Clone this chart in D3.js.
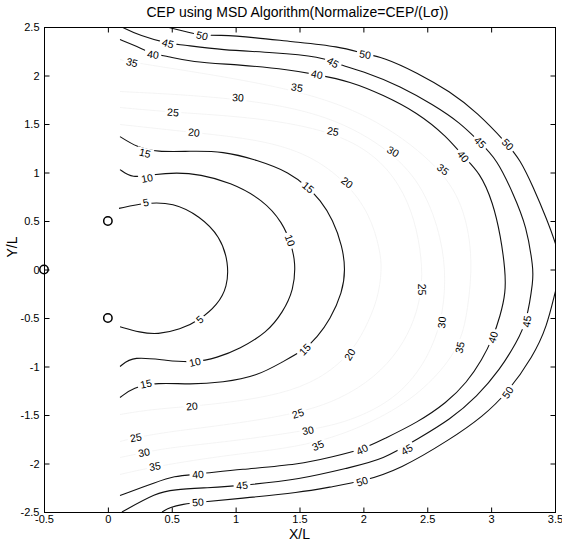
<!DOCTYPE html>
<html>
<head>
<meta charset="utf-8">
<script src="https://cdn.jsdelivr.net/npm/d3@7"></script>
<style>
  html, body { margin: 0; padding: 0; background: #fff; }
  text { font-family: "Liberation Sans", Arial, Helvetica, sans-serif; fill: #000; }
</style>
</head>
<body>
<script>
// ---------------- DATA ----------------
const titleText = "CEP using MSD Algorithm(Normalize=CEP/(L\u03c3))";
const xLabelText = "X/L";
const yLabelText = "Y/L";

const xTicks = [-0.5, 0, 0.5, 1, 1.5, 2, 2.5, 3, 3.5];
const xTickLabels = ["-0.5", "0", "0.5", "1", "1.5", "2", "2.5", "3", "3.5"];
const yTicks = [-2.5, -2, -1.5, -1, -0.5, 0, 0.5, 1, 1.5, 2, 2.5];
const yTickLabels = ["-2.5", "-2", "-1.5", "-1", "-0.5", "0", "0.5", "1", "1.5", "2", "2.5"];

// sensor markers (circles)
const markerX = [0, 0, -0.5];
const markerY = [0.5, -0.5, 0];

// contour levels
const contourLevels = [5, 10, 15, 20, 25, 30, 35, 40, 45, 50];
// levels whose lines are barely visible in the scan
const faintLevels = [20, 25, 30, 35];

// contour lines [x, y]
const contour5 = [[0.087,0.63],[0.298,0.69],[0.51,0.69],[0.72,0.55],[0.88,0.34],[0.945,0.07],[0.935,-0.18],[0.86,-0.36],[0.72,-0.52],[0.565,-0.62],[0.39,-0.67],[0.25,-0.65],[0.095,-0.59]];
const contour10 = [[0.095,1.03],[0.19,0.94],[0.353,0.98],[0.54,1.0],[0.72,0.98],[0.956,0.90],[1.214,0.72],[1.37,0.48],[1.435,0.26],[1.47,0.07],[1.455,-0.21],[1.37,-0.44],[1.246,-0.65],[1.03,-0.82],[0.854,-0.91],[0.68,-0.96],[0.463,-0.94],[0.197,-0.89],[0.095,-1.0]];
const contour15 = [[0.095,1.37],[0.228,1.26],[0.385,1.21],[0.643,1.22],[0.90,1.22],[1.167,1.13],[1.426,1.0],[1.567,0.845],[1.66,0.72],[1.762,0.515],[1.836,0.237],[1.86,0],[1.836,-0.237],[1.74,-0.515],[1.637,-0.70],[1.543,-0.825],[1.37,-0.95],[1.167,-1.10],[0.90,-1.165],[0.643,-1.186],[0.385,-1.165],[0.197,-1.216],[0.095,-1.32]];
const contour20 = [[0.095,1.495],[0.674,1.412],[1.19,1.34],[1.582,1.186],[1.872,0.897],[2.052,0.567],[2.13,0.206],[2.146,0],[2.114,-0.309],[2.013,-0.619],[1.895,-0.876],[1.66,-1.134],[1.347,-1.289],[0.956,-1.37],[0.658,-1.41],[0.33,-1.443],[0.095,-1.495]];
const contour25 = [[0.095,1.67],[0.51,1.62],[1.19,1.567],[1.762,1.423],[2.09,1.186],[2.287,0.876],[2.404,0.515],[2.459,0.103],[2.459,-0.206],[2.404,-0.515],[2.287,-0.825],[2.09,-1.113],[1.817,-1.34],[1.488,-1.485],[0.956,-1.598],[0.486,-1.67],[0.22,-1.732],[0.095,-1.773]];
const contour30 = [[0.095,1.835],[1.019,1.773],[1.739,1.598],[2.232,1.216],[2.482,0.825],[2.615,0.309],[2.647,-0.103],[2.615,-0.546],[2.482,-0.979],[2.248,-1.34],[1.895,-1.567],[1.567,-1.66],[0.956,-1.773],[0.486,-1.835],[0.283,-1.887],[0.095,-1.938]];
const contour35 = [[0.095,2.165],[0.189,2.134],[1.48,1.876],[2.13,1.546],[2.623,1.031],[2.795,0.619],[2.858,0.103],[2.819,-0.412],[2.756,-0.804],[2.52,-1.186],[2.208,-1.495],[1.645,-1.814],[0.956,-1.907],[0.369,-2.03],[0.095,-2.113]];
const contour40 = [[0.095,2.37],[0.228,2.30],[0.353,2.22],[0.463,2.20],[0.643,2.14],[1.034,2.11],[1.426,2.06],[1.637,2.01],[1.895,1.94],[2.154,1.80],[2.42,1.62],[2.655,1.37],[2.78,1.165],[2.913,1.0],[3.015,0.69],[3.075,0.34],[3.11,0],[3.115,-0.237],[3.07,-0.485],[3.015,-0.70],[2.93,-0.93],[2.81,-1.165],[2.655,-1.37],[2.42,-1.58],[2.154,-1.75],[1.99,-1.856],[1.762,-1.93],[1.504,-2.01],[1.034,-2.06],[0.705,-2.11],[0.51,-2.13],[0.385,-2.19],[0.095,-2.33]];
const contour45 = [[0.11,2.5],[0.25,2.41],[0.47,2.33],[0.565,2.32],[0.90,2.26],[1.29,2.24],[1.684,2.19],[1.762,2.13],[2.03,2.03],[2.287,1.89],[2.545,1.70],[2.756,1.515],[2.913,1.31],[3.046,1.134],[3.17,0.79],[3.28,0.443],[3.33,0],[3.33,-0.10],[3.28,-0.536],[3.20,-0.75],[3.07,-1.03],[2.89,-1.31],[2.68,-1.546],[2.42,-1.75],[2.154,-1.96],[1.895,-2.04],[1.504,-2.165],[1.05,-2.227],[0.776,-2.25],[0.51,-2.27],[0.385,-2.30],[0.11,-2.5]];
const contour50 = [[0.463,2.5],[0.643,2.44],[0.737,2.41],[0.854,2.42],[1.167,2.39],[1.426,2.35],[1.817,2.30],[2.013,2.22],[2.154,2.19],[2.42,2.03],[2.678,1.835],[2.89,1.62],[3.13,1.29],[3.226,1.134],[3.328,0.856],[3.437,0.515],[3.51,0.25],[3.54,0.1],[3.53,-0.1],[3.5,-0.237],[3.437,-0.588],[3.328,-0.897],[3.13,-1.268],[2.936,-1.515],[2.678,-1.753],[2.287,-2.06],[1.99,-2.186],[1.762,-2.237],[1.504,-2.30],[1.034,-2.36],[0.705,-2.40],[0.588,-2.42],[0.486,-2.45],[0.424,-2.5]];

// inline label anchor points [x, y]
const labels5 = [[0.298,0.69],[0.72,-0.515]];
const labels10 = [[0.306,0.94],[1.426,0.30],[0.682,-0.955]];
const labels15 = [[0.29,1.20],[1.567,0.845],[1.543,-0.825],[0.298,-1.18]];
const labels20 = [[0.674,1.412],[1.872,0.897],[1.895,-0.876],[0.658,-1.41]];
const labels25 = [[0.51,1.62],[1.762,1.423],[2.459,-0.206],[1.488,-1.485],[0.22,-1.732]];
const labels30 = [[1.019,1.773],[2.232,1.216],[2.615,-0.546],[1.567,-1.66],[0.283,-1.887]];
const labels35 = [[0.189,2.134],[1.48,1.876],[2.623,1.031],[2.756,-0.804],[1.645,-1.814],[0.369,-2.03]];
const labels40 = [[0.353,2.216],[1.637,2.01],[2.78,1.165],[3.015,-0.70],[1.99,-1.856],[0.705,-2.113]];
const labels45 = [[0.47,2.33],[1.762,2.134],[2.913,1.31],[3.28,-0.536],[2.34,-1.856],[1.05,-2.227]];
const labels50 = [[0.737,2.41],[2.013,2.216],[3.13,1.29],[3.13,-1.268],[1.99,-2.186],[0.705,-2.40]];

// table built from the arrays above
const contourTable = [
  {level: 5, pts: contour5, labels: labels5},
  {level: 10, pts: contour10, labels: labels10},
  {level: 15, pts: contour15, labels: labels15},
  {level: 20, pts: contour20, labels: labels20},
  {level: 25, pts: contour25, labels: labels25},
  {level: 30, pts: contour30, labels: labels30},
  {level: 35, pts: contour35, labels: labels35},
  {level: 40, pts: contour40, labels: labels40},
  {level: 45, pts: contour45, labels: labels45},
  {level: 50, pts: contour50, labels: labels50}
];

// ---------------- CHART ----------------
const W = 562, H = 543;
const plot = {left: 44, right: 555, top: 27, bottom: 512};

const x = d3.scaleLinear().domain([-0.5, 3.5]).range([plot.left, plot.right]);
const y = d3.scaleLinear().domain([-2.5, 2.5]).range([plot.bottom, plot.top]);

const svg = d3.select("body").append("svg").attr("width", W).attr("height", H);

svg.append("defs").append("clipPath").attr("id", "plotclip")
  .append("rect")
  .attr("x", plot.left).attr("y", plot.top)
  .attr("width", plot.right - plot.left).attr("height", plot.bottom - plot.top);

const line = d3.line().x(d => x(d[0])).y(d => y(d[1])).curve(d3.curveBasis);

const gLines = svg.append("g").attr("clip-path", "url(#plotclip)");
gLines.selectAll("path.contour")
  .data(contourTable)
  .join("path")
  .attr("class", "contour")
  .attr("d", d => line(d.pts))
  .attr("fill", "none")
  .attr("stroke", d => faintLevels.includes(d.level) ? "#f1f1f1" : "#111")
  .attr("stroke-width", d => faintLevels.includes(d.level) ? 0.8 : 1.1);

// inline labels
function angleAt(pts, px, py) {
  let best = Infinity, ang = 0;
  for (let i = 0; i < pts.length - 1; i++) {
    const x1 = x(pts[i][0]), y1 = y(pts[i][1]);
    const x2 = x(pts[i + 1][0]), y2 = y(pts[i + 1][1]);
    const dx = x2 - x1, dy = y2 - y1;
    const L2 = dx * dx + dy * dy || 1;
    let t = ((px - x1) * dx + (py - y1) * dy) / L2;
    t = Math.max(0, Math.min(1, t));
    const cx = x1 + t * dx, cy = y1 + t * dy;
    const dist = (px - cx) ** 2 + (py - cy) ** 2;
    if (dist < best) { best = dist; ang = Math.atan2(dy, dx) * 180 / Math.PI; }
  }
  if (ang > 90) ang -= 180;
  if (ang < -90) ang += 180;
  return ang;
}

const labelData = [];
contourTable.forEach(c => {
  c.labels.forEach(p => {
    const px = x(p[0]), py = y(p[1]);
    labelData.push({level: c.level, px, py, ang: angleAt(c.pts, px, py)});
  });
});

const gLab = svg.append("g");
const lab = gLab.selectAll("g.lab")
  .data(labelData)
  .join("g")
  .attr("class", "lab")
  .attr("transform", d => `translate(${d.px},${d.py}) rotate(${d.ang})`);
lab.append("rect")
  .attr("x", d => -(String(d.level).length * 3.2) - 2)
  .attr("y", -5)
  .attr("width", d => String(d.level).length * 6.4 + 4)
  .attr("height", 10)
  .attr("fill", "#fff");
lab.append("text")
  .attr("text-anchor", "middle")
  .attr("dy", "0.35em")
  .attr("font-size", "10.5px")
  .text(d => d.level);

// markers
svg.append("g").selectAll("circle")
  .data(markerX.map((d, i) => [d, markerY[i]]))
  .join("circle")
  .attr("cx", d => x(d[0]))
  .attr("cy", d => y(d[1]))
  .attr("r", 4.2)
  .attr("fill", "none")
  .attr("stroke", "#000")
  .attr("stroke-width", 1.5);

// frame
svg.append("rect")
  .attr("x", plot.left + 0.5).attr("y", plot.top + 0.5)
  .attr("width", plot.right - plot.left).attr("height", plot.bottom - plot.top)
  .attr("fill", "none").attr("stroke", "#000").attr("stroke-width", 1);

// axes
function styleAxis(g) {
  g.select(".domain").remove();
  g.selectAll(".tick line").attr("stroke", "#000");
  g.selectAll(".tick text").attr("font-size", "11px").attr("fill", "#000")
    .attr("font-family", "'Liberation Sans', Arial, sans-serif");
}
svg.append("g").attr("transform", `translate(0,${plot.bottom + 0.5})`)
  .call(d3.axisBottom(x).tickValues(xTicks).tickFormat((d, i) => xTickLabels[i])
    .tickSizeInner(-5).tickSizeOuter(0).tickPadding(3))
  .call(styleAxis);
svg.append("g").attr("transform", `translate(0,${plot.top + 0.5})`)
  .call(d3.axisTop(x).tickValues(xTicks).tickFormat("")
    .tickSizeInner(-5).tickSizeOuter(0))
  .call(styleAxis);
svg.append("g").attr("transform", `translate(${plot.left + 0.5},0)`)
  .call(d3.axisLeft(y).tickValues(yTicks).tickFormat((d, i) => yTickLabels[i])
    .tickSizeInner(-5).tickSizeOuter(0).tickPadding(5))
  .call(styleAxis);
svg.append("g").attr("transform", `translate(${plot.right + 0.5},0)`)
  .call(d3.axisRight(y).tickValues(yTicks).tickFormat("")
    .tickSizeInner(-5).tickSizeOuter(0))
  .call(styleAxis);

// titles
svg.append("text")
  .attr("x", (plot.left + plot.right) / 2 - 2)
  .attr("y", 17)
  .attr("text-anchor", "middle")
  .attr("font-size", "14px")
  .text(titleText);
svg.append("text")
  .attr("x", (plot.left + plot.right) / 2)
  .attr("y", 539)
  .attr("text-anchor", "middle")
  .attr("font-size", "14px")
  .text(xLabelText);
svg.append("text")
  .attr("transform", `translate(17,${247}) rotate(-90)`)
  .attr("text-anchor", "middle")
  .attr("font-size", "14px")
  .text(yLabelText);
</script>
</body>
</html>
